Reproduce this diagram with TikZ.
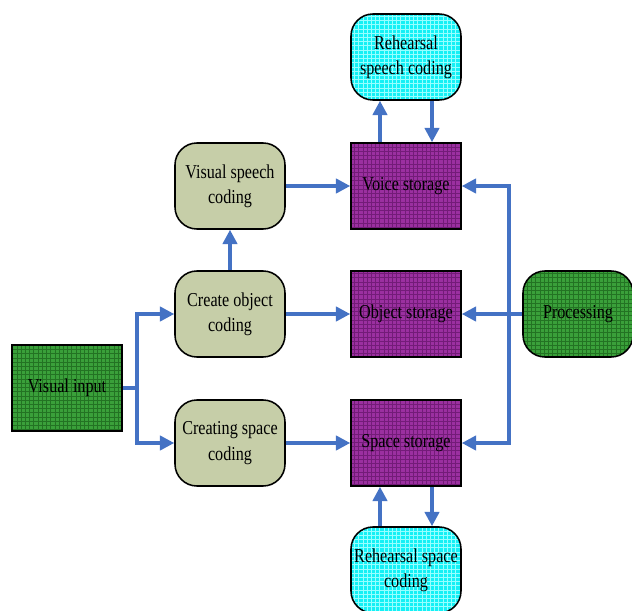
\documentclass[tikz,border=0pt]{standalone}
\usepackage{fontspec}
\setmainfont[FakeStretch=0.82]{Liberation Serif}
\usetikzlibrary{arrows.meta, patterns, positioning}

\definecolor{flowblue}{RGB}{68,114,196}
\definecolor{storepurple}{RGB}{155,48,160}
\definecolor{storegrid}{RGB}{115,28,120}
\definecolor{inputgreen}{RGB}{58,160,58}
\definecolor{inputgrid}{RGB}{35,115,35}
\definecolor{rehcyan}{RGB}{20,240,245}
\definecolor{rehgrid}{RGB}{150,255,255}
\definecolor{codekhaki}{RGB}{198,206,168}

\begin{document}
\begin{tikzpicture}[x=0.025cm, y=-0.025cm,
    box/.style={draw, line width=1.1pt, minimum width=2.75cm, minimum height=2.15cm,
        align=center, inner sep=2pt, font=\fontsize{14}{18}\selectfont},
    store/.style={box, preaction={fill=storepurple}, pattern=grid, pattern color=storegrid},
    inbox/.style={box, preaction={fill=inputgreen}, pattern=grid, pattern color=inputgrid},
    procbox/.style={inbox, rounded corners=0.55cm},
    coding/.style={box, fill=codekhaki, rounded corners=0.55cm},
    rehearse/.style={box, preaction={fill=rehcyan}, pattern=grid, pattern color=rehgrid, rounded corners=0.55cm},
    flow/.style={draw=flowblue, line width=2.4pt, -{Triangle[length=0.36cm, width=0.36cm]}},
    wire/.style={draw=flowblue, line width=2.4pt}
  ]
  \clip (0,0) rectangle (632,611);

  \node[rehearse] (rsc) at (406,57) {Rehearsal\\speech coding};
  \node[store] (voice) at (406,186) {Voice storage};
  \node[store] (object) at (406,314) {Object storage};
  \node[store] (space) at (406,443) {Space storage};
  \node[rehearse] (rspc) at (406,570) {Rehearsal space\\coding};

  \node[coding] (vsc) at (230,186) {Visual speech\\coding};
  \node[coding] (coc) at (230,314) {Create object\\coding};
  \node[coding] (csc) at (230,443) {Creating space\\coding};

  \node[inbox] (vin) at (67,388) {Visual input};
  \node[procbox] (proc) at (578,314) {Processing};

  \coordinate (jl) at (137,388);
  \coordinate (jr) at (509,314);

  \draw[wire] (vin) -- (jl);
  \draw[flow] (jl) |- (coc);
  \draw[flow] (jl) |- (csc);
  \draw[flow] (coc) -- (vsc);
  \draw[flow] (vsc) -- (voice);
  \draw[flow] (coc) -- (object);
  \draw[flow] (csc) -- (space);

  \draw[flow] ([xshift=-0.65cm]voice.north) -- ([xshift=-0.65cm]rsc.south);
  \draw[flow] ([xshift=0.65cm]rsc.south) -- ([xshift=0.65cm]voice.north);
  \draw[flow] ([xshift=-0.65cm]rspc.north) -- ([xshift=-0.65cm]space.south);
  \draw[flow] ([xshift=0.65cm]space.south) -- ([xshift=0.65cm]rspc.north);

  \draw[flow] (proc) -- (object);
  \draw[flow] (jr) |- (voice);
  \draw[flow] (jr) |- (space);
\end{tikzpicture}
\end{document}
